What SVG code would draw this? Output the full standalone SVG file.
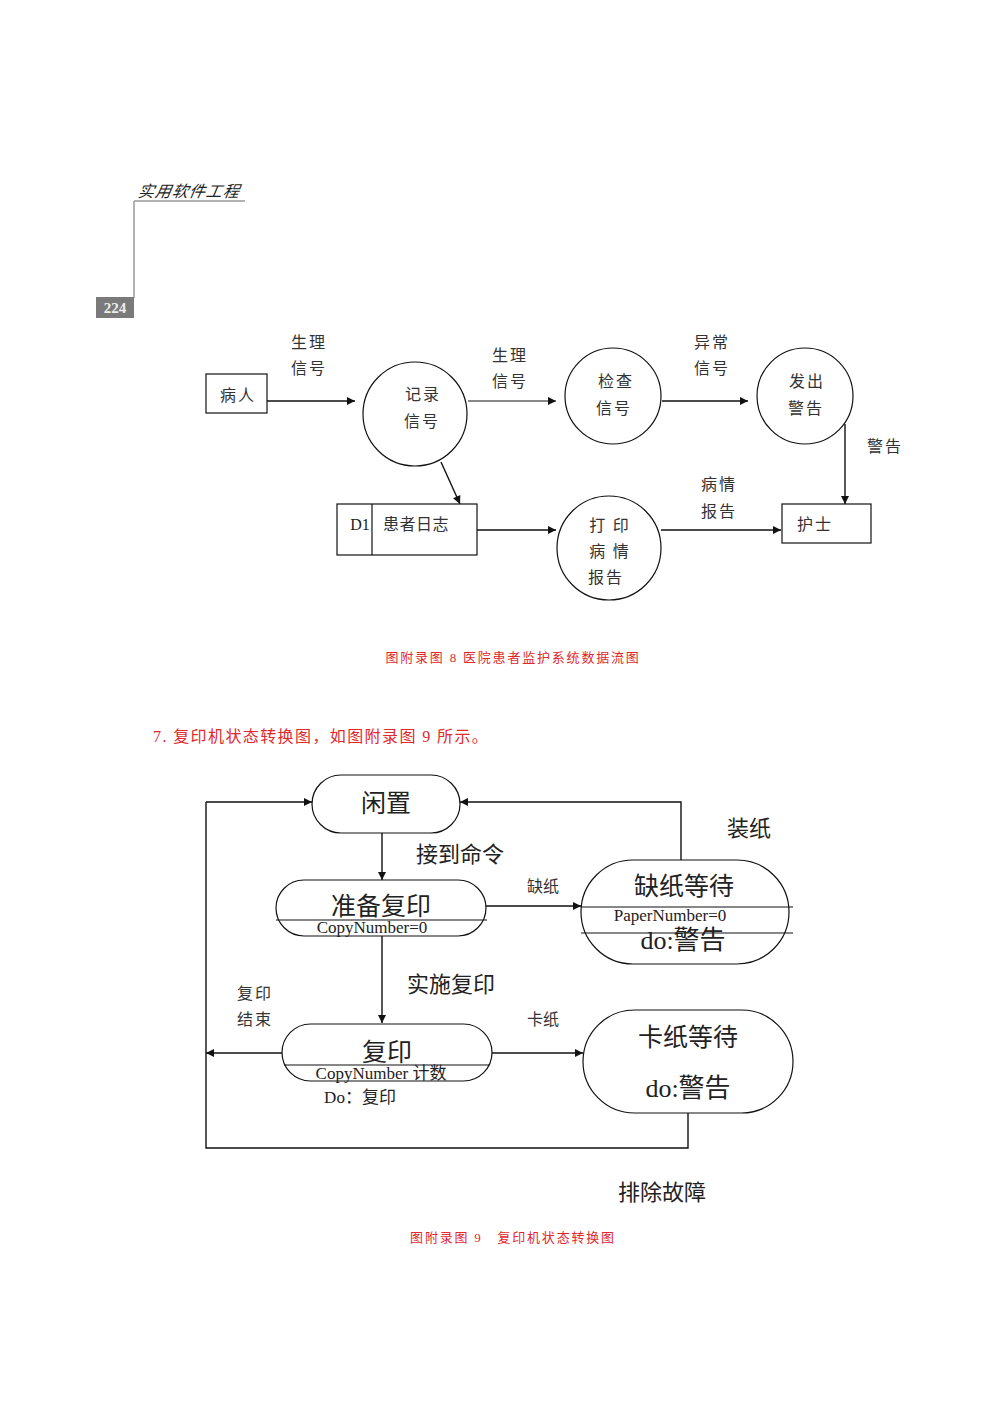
<svg xmlns="http://www.w3.org/2000/svg" width="993" height="1404" viewBox="0 0 993 1404">
<style>
.bg{fill:#ffffff}
.ln{stroke:#111;stroke-width:1.4;fill:none}
.ln2{stroke:#111;stroke-width:1.2;fill:none}
.box{fill:#fff;stroke:#111;stroke-width:1.2}
.t{font-family:"Noto Sans CJK SC","Liberation Sans",sans-serif;fill:#333;font-size:16px;text-anchor:middle;letter-spacing:2px}
.s{font-family:"Liberation Serif","Noto Sans CJK SC",serif;fill:#222;text-anchor:middle}
.red{font-family:"Liberation Serif","Noto Sans CJK SC",serif;fill:#e0282e}
</style>
<defs>
<marker id="ah" viewBox="0 0 10 10" refX="10" refY="5" markerWidth="10" markerHeight="8" markerUnits="userSpaceOnUse" orient="auto">
<path d="M0,0 L10,5 L0,10 z" fill="#111"/>
</marker>
</defs>
<rect class="bg" x="0" y="0" width="993" height="1404"/>

<g id="header">
<text x="137" y="197" font-family="Noto Sans CJK SC,sans-serif" font-size="16" font-style="italic" fill="#222" letter-spacing="1" transform="skewX(-10) translate(35,0)">实用软件工程</text>
<line x1="134" y1="201" x2="245" y2="201" stroke="#999" stroke-width="1.5"/>
<line x1="134" y1="201" x2="134" y2="298" stroke="#999" stroke-width="1.5"/>
<rect x="96" y="297" width="38" height="21" fill="#7a7a7a"/>
<text x="115" y="313" font-family="Liberation Serif,serif" font-weight="bold" font-size="15" fill="#eee" text-anchor="middle">224</text>
</g>

<g id="dfd-connectors">
<line class="ln" x1="267" y1="401" x2="355" y2="401" marker-end="url(#ah)"/>
<line class="ln2" x1="468" y1="401" x2="556" y2="401" marker-end="url(#ah)"/>
<line class="ln" x1="662" y1="401" x2="748" y2="401" marker-end="url(#ah)"/>
<line class="ln" x1="845" y1="424" x2="845" y2="504" marker-end="url(#ah)"/>
<line class="ln" x1="441" y1="462" x2="460" y2="504" marker-end="url(#ah)"/>
<line class="ln" x1="477" y1="530" x2="556" y2="530" marker-end="url(#ah)"/>
<line class="ln" x1="661" y1="530" x2="781" y2="530" marker-end="url(#ah)"/>
<text class="t" x="309" y="348">生理</text>
<text class="t" x="309" y="374">信号</text>
<text class="t" x="510" y="361">生理</text>
<text class="t" x="510" y="387">信号</text>
<text class="t" x="712" y="348">异常</text>
<text class="t" x="712" y="374">信号</text>
<text class="t" x="885" y="452">警告</text>
<text class="t" x="719" y="490">病情</text>
<text class="t" x="719" y="517">报告</text>
</g>

<g id="patient">
<rect class="box" x="206" y="374" width="61" height="39"/>
<text class="t" x="238" y="401">病人</text>
</g>
<g id="record">
<circle class="box" cx="415" cy="414" r="52"/>
<text class="t" x="423" y="400">记录</text>
<text class="t" x="422" y="427">信号</text>
</g>
<g id="check">
<circle class="box" cx="613" cy="396" r="48"/>
<text class="t" x="616" y="387">检查</text>
<text class="t" x="614" y="414">信号</text>
</g>
<g id="alarm">
<circle class="box" cx="805" cy="396" r="48"/>
<text class="t" x="807" y="387">发出</text>
<text class="t" x="806" y="414">警告</text>
</g>
<g id="log">
<rect class="box" x="337" y="504" width="140" height="51"/>
<line class="ln2" x1="372" y1="504" x2="372" y2="555"/>
<text x="360" y="530" font-family="Liberation Serif,serif" font-size="16" fill="#222" text-anchor="middle">D1</text>
<text class="t" x="416" y="530" style="letter-spacing:0.5px">患者日志</text>
</g>
<g id="print">
<circle class="box" cx="609" cy="548" r="52"/>
<text class="t" x="610" y="531">打 印</text>
<text class="t" x="610" y="557">病 情</text>
<text class="t" x="606" y="583">报告</text>
</g>
<g id="nurse">
<rect class="box" x="782" y="504" width="89" height="39"/>
<text class="t" x="815" y="530">护士</text>
</g>

<text class="red" x="513" y="662" font-size="13" letter-spacing="1.8" text-anchor="middle">图附录图 8  医院患者监护系统数据流图</text>
<text class="red" x="153" y="742" font-size="16" letter-spacing="1.4">7. 复印机状态转换图，如图附录图 9 所示。</text>

<g id="std-connectors">
<polyline class="ln" points="206,1053 206,1148 688,1148 688,1113"/>
<line class="ln" x1="206" y1="1053" x2="206" y2="802"/>
<line class="ln" x1="206" y1="802" x2="312" y2="802" marker-end="url(#ah)"/>
<polyline class="ln" points="681,860 681,802 460,802" marker-end="url(#ah)"/>
<line class="ln" x1="382" y1="833" x2="382" y2="880" marker-end="url(#ah)"/>
<line class="ln" x1="382" y1="936" x2="382" y2="1023" marker-end="url(#ah)"/>
<line class="ln" x1="486" y1="906" x2="581" y2="906" marker-end="url(#ah)"/>
<line class="ln" x1="282" y1="1053" x2="206" y2="1053" marker-end="url(#ah)"/>
<line class="ln" x1="492" y1="1053" x2="583" y2="1053" marker-end="url(#ah)"/>
<text class="s" x="460" y="862" font-size="22">接到命令</text>
<text class="s" x="749" y="836" font-size="22">装纸</text>
<text class="t" x="543" y="892" font-size="15" style="letter-spacing:0">缺纸</text>
<text class="s" x="451" y="992" font-size="22">实施复印</text>
<text class="t" x="255" y="999" font-size="15">复印</text>
<text class="t" x="255" y="1025" font-size="15">结束</text>
<text class="t" x="543" y="1025" font-size="15" style="letter-spacing:0">卡纸</text>
<text class="s" x="662" y="1200" font-size="22">排除故障</text>
</g>

<g id="idle">
<rect class="box" x="312" y="775" width="148" height="58" rx="29"/>
<text class="s" x="386" y="812" font-size="25">闲置</text>
</g>
<g id="prepare">
<rect class="box" x="276" y="880" width="210" height="56" rx="28"/>
<line class="ln2" x1="276" y1="920" x2="487" y2="920"/>
<text class="s" x="381" y="915" font-size="25">准备复印</text>
<text class="s" x="372" y="933" font-size="17">CopyNumber=0</text>
</g>
<g id="nopaper">
<rect class="box" x="581" y="860" width="208" height="104" rx="52"/>
<line class="ln2" x1="581" y1="907" x2="793" y2="907"/>
<line class="ln2" x1="581" y1="933" x2="793" y2="933"/>
<text class="s" x="684" y="895" font-size="25">缺纸等待</text>
<text class="s" x="670" y="921" font-size="17">PaperNumber=0</text>
<text class="s" x="683" y="949" font-size="26">do:警告</text>
</g>
<g id="copy">
<rect class="box" x="282" y="1024" width="210" height="57" rx="28.5"/>
<line class="ln2" x1="284" y1="1065" x2="490" y2="1065"/>
<text class="s" x="387" y="1061" font-size="25">复印</text>
<text class="s" x="381" y="1079" font-size="17">CopyNumber 计数</text>
<text class="s" x="360" y="1103" font-size="17">Do：复印</text>
</g>
<g id="jam">
<rect class="box" x="583" y="1010" width="210" height="103" rx="51.5"/>
<text class="s" x="688" y="1046" font-size="25">卡纸等待</text>
<text class="s" x="688" y="1097" font-size="26">do:警告</text>
</g>

<text class="red" x="513" y="1242" font-size="13" letter-spacing="1.8" text-anchor="middle">图附录图 9　复印机状态转换图</text>
</svg>
